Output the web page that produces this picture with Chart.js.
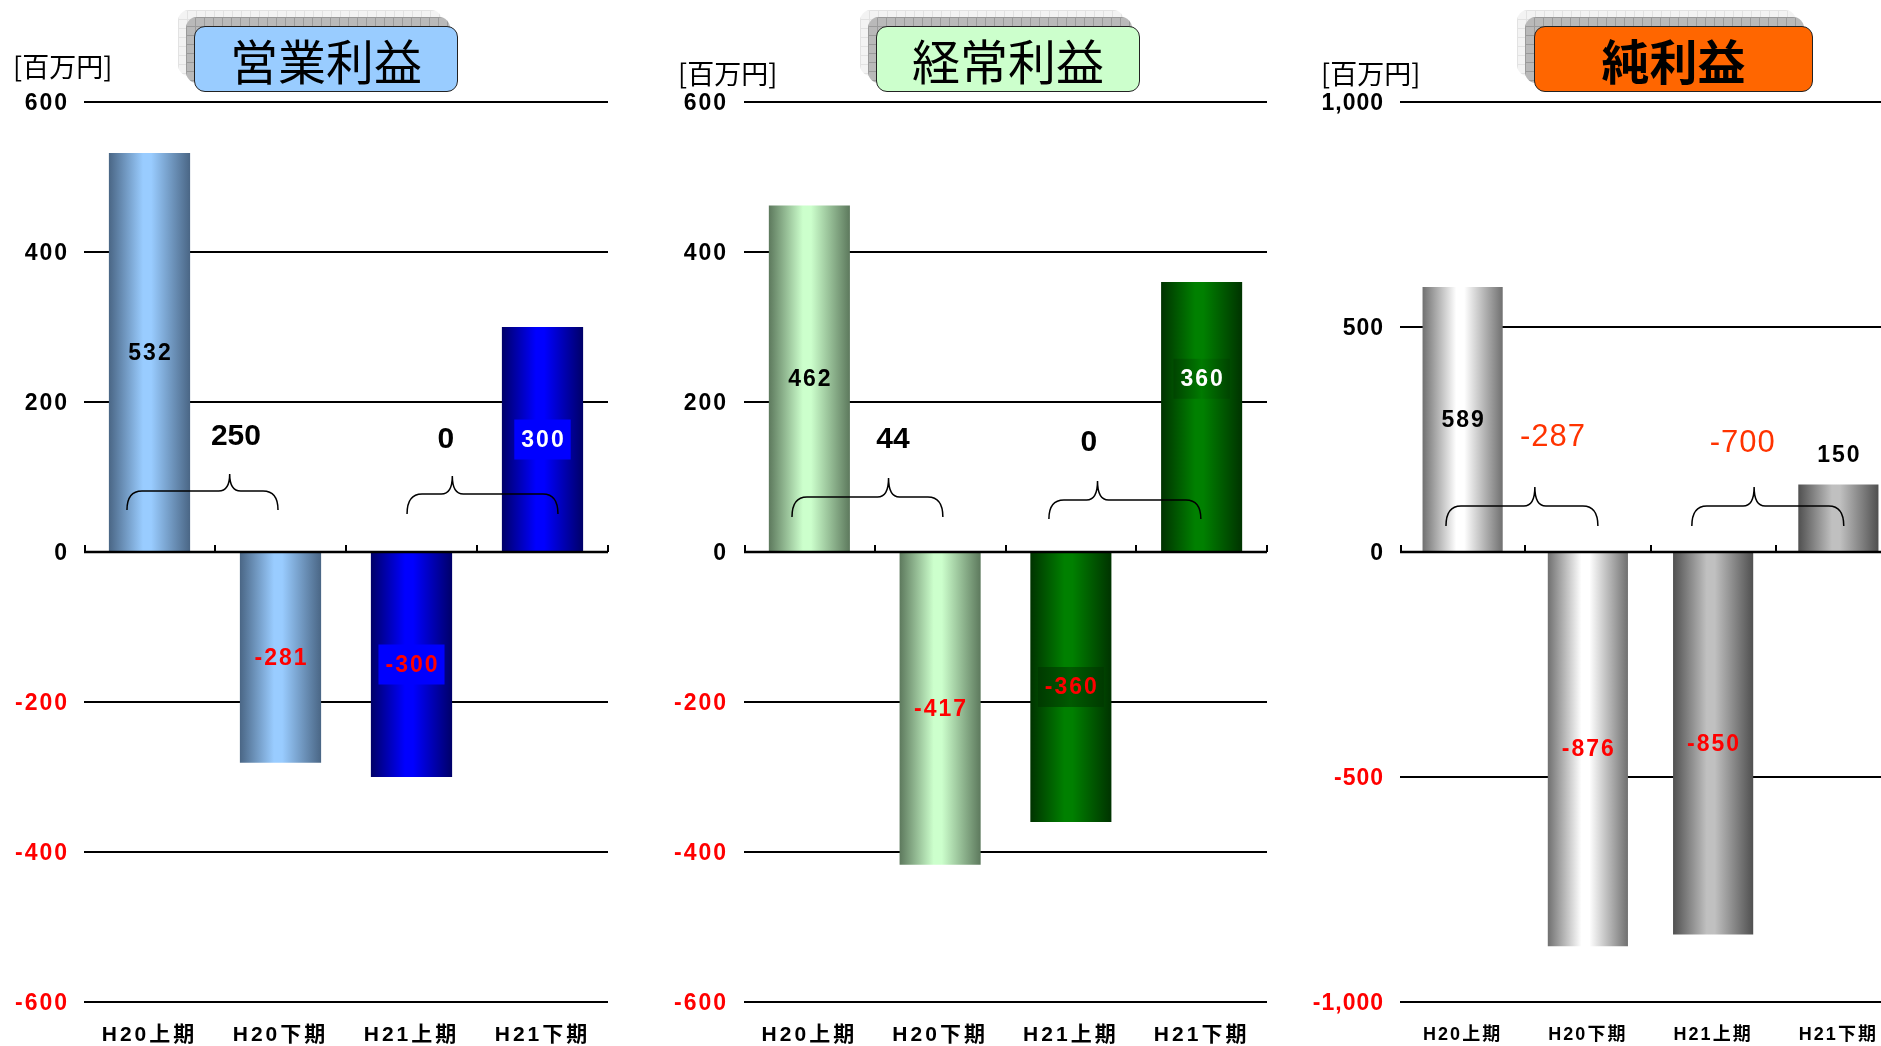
<!DOCTYPE html>
<html><head><meta charset="utf-8">
<script src="https://cdn.jsdelivr.net/npm/chart.js@4.4.1/dist/chart.umd.min.js"></script>
<style>
html,body{margin:0;padding:0;background:#fff;}
body{width:1881px;height:1046px;overflow:hidden;position:relative;}
canvas{position:absolute;top:0;}
.unit{position:absolute;font-family:"Noto Sans CJK JP",sans-serif;font-size:27px;line-height:28px;color:#000;white-space:nowrap;}
.sh{position:absolute;height:66px;border-radius:11px;}
.sh1{background-color:#f3f3f3;background-image:linear-gradient(#e2e2e2 1px,transparent 1px),linear-gradient(90deg,#e2e2e2 1px,transparent 1px);background-size:9px 9px;}
.sh2{background-color:#b9b9b9;background-image:linear-gradient(#9a9a9a 1px,transparent 1px),linear-gradient(90deg,#9a9a9a 1px,transparent 1px);background-size:9px 9px;}
.tb{position:absolute;height:66px;border-radius:11px;border:1.5px solid #222;box-sizing:border-box;display:flex;align-items:center;justify-content:center;font-family:"Noto Sans CJK JP",sans-serif;font-size:48px;color:#000;line-height:1;}
</style>
</head><body>
<canvas id="c1" width="620" height="1046" style="left:0px"></canvas>
<canvas id="c2" width="620" height="1046" style="left:660px"></canvas>
<canvas id="c3" width="620" height="1046" style="left:1300px"></canvas>

<div class="unit" id="u1" style="left:13px;top:52px"></div>
<div class="unit" id="u2" style="left:678px;top:59px"></div>
<div class="unit" id="u3" style="left:1321px;top:59px"></div>

<div class="sh sh1" style="left:178px;top:10px;width:264px"></div>
<div class="sh sh2" style="left:186px;top:17px;width:264px"></div>
<div class="tb" id="t1" style="left:194px;top:26px;width:264px;background:#99ccff"></div>

<div class="sh sh1" style="left:860px;top:10px;width:264px"></div>
<div class="sh sh2" style="left:868px;top:17px;width:264px"></div>
<div class="tb" id="t2" style="left:876px;top:26px;width:264px;background:#ccffcc"></div>

<div class="sh sh1" style="left:1517px;top:10px;width:279px"></div>
<div class="sh sh2" style="left:1525px;top:17px;width:279px"></div>
<div class="tb" id="t3" style="left:1534px;top:26px;width:279px;background:#ff6600;font-weight:700"></div>

<script>
// ---- data ----
const categories = ['H20上期', 'H20下期', 'H21上期', 'H21下期'];
const operatingValues = [532, -281, -300, 300];
const ordinaryValues = [462, -417, -360, 360];
const netValues = [589, -876, -850, 150];
const ticksSmall = [-600, -400, -200, 0, 200, 400, 600];
const ticksLarge = [-1000, -500, 0, 500, 1000];
const operatingChanges = [250, 0];
const ordinaryChanges = [44, 0];
const netChanges = [-287, -700];
const titles = ['営業利益', '経常利益', '純利益'];
const unitLabel = '[百万円]';

document.getElementById('u1').textContent = unitLabel;
document.getElementById('u2').textContent = unitLabel;
document.getElementById('u3').textContent = unitLabel;
document.getElementById('t1').textContent = titles[0];
document.getElementById('t2').textContent = titles[1];
document.getElementById('t3').textContent = titles[2];

const FAM = '"Liberation Sans", Arial, "Noto Sans CJK JP", sans-serif';
const fmt = v => v.toLocaleString('en-US');

function barFill(o) {
  return function (c) {
    const ch = c.chart, xs = ch.scales.x;
    const i = c.dataIndex;
    const pair = o.colors[i] || o.colors[0];
    if (!ch.chartArea || !xs || !xs.width || i === undefined) return pair[1];
    const cx = xs.getPixelForValue(i);
    const w = xs.width / categories.length * o.barPct;
    const g = ch.ctx.createLinearGradient(cx - w / 2, 0, cx + w / 2, 0);
    g.addColorStop(0, pair[0]);
    g.addColorStop(0.42, pair[1]);
    g.addColorStop(0.52, pair[1]);
    g.addColorStop(1, pair[0]);
    return g;
  };
}

const decor = {
  id: 'decor',
  afterLayout(chart, args, o) {
    const xs = chart.scales.x, ys = chart.scales.y;
    if (!xs._wrapped) {
      const orig = xs.drawLabels;
      xs.drawLabels = function (a) { const c = this.ctx; c.save(); c.letterSpacing = o.xSpacing; orig.call(this, a); c.restore(); };
      xs._wrapped = true;
    }
    if (!ys._wrapped) {
      const orig = ys.drawLabels;
      ys.drawLabels = function (a) { const c = this.ctx; c.save(); c.translate(0, 2); c.letterSpacing = o.ySpacing; orig.call(this, a); c.restore(); };
      ys._wrapped = true;
    }
  },
  afterDatasetsDraw(chart, args, o) {
    const ctx = chart.ctx, a = chart.chartArea, xs = chart.scales.x, ys = chart.scales.y;
    const n = categories.length;
    const y0 = ys.getPixelForValue(0);
    ctx.save();
    ctx.letterSpacing = '0px';
    // zero axis with tick marks
    ctx.strokeStyle = '#000';
    ctx.lineWidth = 2.5;
    ctx.beginPath(); ctx.moveTo(a.left, y0); ctx.lineTo(a.right, y0); ctx.stroke();
    ctx.lineWidth = 2;
    ctx.beginPath();
    for (let i = 0; i <= n; i++) {
      const px = Math.round(xs.getPixelForValue(i - 0.5)) + (i === 0 ? 1 : 0);
      ctx.moveTo(px, y0); ctx.lineTo(px, y0 - 7);
    }
    ctx.stroke();

    // bar value labels
    const meta = chart.getDatasetMeta(0);
    o.values.forEach((v, i) => {
      const el = meta.data[i];
      let py;
      if (o.labelAbove && o.labelAbove[i]) py = el.y - o.labelAbove[i];
      else if (o.labelAt && o.labelAt[i] != null) py = ys.getPixelForValue(o.labelAt[i]);
      else py = ys.getPixelForValue(v / 2);
      const txt = fmt(v);
      ctx.font = 'bold 23px ' + FAM;
      ctx.letterSpacing = '2px';
      const tw = ctx.measureText(txt).width;
      const box = o.labelBox && o.labelBox[i];
      if (box) {
        const bw = tw + 12, bh = 40;
        if (Array.isArray(box)) {
          const g = ctx.createLinearGradient(el.x - bw / 2, 0, el.x + bw / 2, 0);
          g.addColorStop(0, box[0]); g.addColorStop(0.5, box[1]); g.addColorStop(1, box[0]);
          ctx.fillStyle = g;
        } else ctx.fillStyle = box;
        ctx.fillRect(el.x - bw / 2, py - bh / 2, bw, bh);
      }
      ctx.fillStyle = o.labelColors[i];
      ctx.textAlign = 'center';
      ctx.textBaseline = 'middle';
      ctx.fillText(txt, el.x + 1, py + 1);
    });

    // braces with change annotations
    ctx.letterSpacing = '0px';
    o.braces.forEach((b, k) => {
      const xl = xs.getPixelForValue(b.from), xr = xs.getPixelForValue(b.to);
      const xp = xl + (xr - xl) * b.peak;
      const yT = y0 - b.top, yM = y0 - b.mid, yE = y0 - b.end;
      const r1 = 15, r2 = 11;
      ctx.strokeStyle = '#000';
      ctx.lineWidth = 1.5;
      ctx.beginPath();
      ctx.moveTo(xl, yE);
      ctx.quadraticCurveTo(xl, yM, xl + r1, yM);
      ctx.lineTo(xp - r2, yM);
      ctx.quadraticCurveTo(xp, yM, xp, yT);
      ctx.quadraticCurveTo(xp, yM, xp + r2, yM);
      ctx.lineTo(xr - r1, yM);
      ctx.quadraticCurveTo(xr, yM, xr, yE);
      ctx.stroke();
      const val = o.changes[k];
      ctx.font = o.changeFont;
      ctx.letterSpacing = o.changeSpacing;
      ctx.fillStyle = val < 0 ? '#ff3300' : '#000';
      ctx.textAlign = 'center';
      ctx.textBaseline = 'middle';
      ctx.fillText(fmt(val), xs.getPixelForValue(b.textX), y0 - b.textDy);
      ctx.letterSpacing = '0px';
    });
    ctx.restore();
  }
};

function makeChart(id, values, ticks, o) {
  o.values = values;
  return new Chart(document.getElementById(id), {
    type: 'bar',
    data: {
      labels: categories,
      datasets: [{
        data: values,
        backgroundColor: barFill(o),
        borderWidth: 0,
        barPercentage: o.barPct,
        categoryPercentage: 1
      }]
    },
    options: {
      responsive: false,
      animation: false,
      devicePixelRatio: 1,
      events: [],
      layout: { padding: { top: 102, left: 0, right: o.padRight, bottom: 0 } },
      plugins: { legend: { display: false }, tooltip: { enabled: false }, decor: o },
      scales: {
        x: {
          grid: { display: false },
          border: { display: false },
          ticks: { color: '#000', font: { family: FAM, size: o.xFont, weight: 'bold' }, padding: o.xPad, maxRotation: 0, autoSkip: false },
          afterFit: s => { s.height = 44; }
        },
        y: {
          min: ticks[0],
          max: ticks[ticks.length - 1],
          afterBuildTicks: s => { s.ticks = ticks.map(v => ({ value: v })); },
          afterFit: s => { s.width = o.yWidth; },
          grid: { color: '#000', lineWidth: 2, drawTicks: false },
          border: { display: false },
          ticks: {
            padding: o.yPad,
            color: c => (c.tick && c.tick.value < 0) ? '#ff0000' : '#000',
            font: { family: FAM, size: 23, weight: 'bold' },
            callback: v => fmt(v)
          }
        }
      }
    },
    plugins: [decor]
  });
}

makeChart('c1', operatingValues, ticksSmall, {
  padRight: 12, yWidth: 84, yPad: 15, xFont: 21, xPad: 13, xSpacing: '3px', ySpacing: '2px', barPct: 0.62,
  colors: [['#4a6685', '#99ccff'], ['#4a6685', '#99ccff'], ['#000068', '#0000ff'], ['#000068', '#0000ff']],
  labelColors: ['#000', '#ff0000', '#ff0000', '#fff'],
  labelBox: [null, null, '#0000ff', '#0000ff'],
  changes: operatingChanges, changeFont: 'bold 30px ' + FAM, changeSpacing: '0px',
  braces: [
    { from: -0.172, to: 0.981, peak: 0.68, top: 78, mid: 61, end: 42, textX: 0.66, textDy: 115 },
    { from: 1.966, to: 3.118, peak: 0.30, top: 76, mid: 58, end: 38, textX: 2.263, textDy: 112 }
  ]
});

makeChart('c2', ordinaryValues, ticksSmall, {
  padRight: 13, yWidth: 84, yPad: 16, xFont: 21, xPad: 13, xSpacing: '3px', ySpacing: '2px', barPct: 0.62,
  colors: [['#5d795d', '#ccffcc'], ['#5d795d', '#ccffcc'], ['#003300', '#008000'], ['#003300', '#008000']],
  labelColors: ['#000', '#ff0000', '#ff0000', '#fff'],
  labelBox: [null, null, ['#003a00', '#005a00'], ['#004400', '#007a00']],
  labelAt: [null, null, null, 231],
  changes: ordinaryChanges, changeFont: 'bold 30px ' + FAM, changeSpacing: '0px',
  braces: [
    { from: -0.133, to: 1.021, peak: 0.64, top: 74, mid: 55, end: 35, textX: 0.639, textDy: 112 },
    { from: 1.832, to: 2.994, peak: 0.32, top: 71, mid: 52, end: 33, textX: 2.138, textDy: 109 }
  ]
});

makeChart('c3', netValues, ticksLarge, {
  padRight: 19, yWidth: 100, yPad: 16, xFont: 18, xPad: 14, xSpacing: '2px', ySpacing: '1px', barPct: 0.64,
  colors: [['#707070', '#ffffff'], ['#707070', '#ffffff'], ['#505050', '#c0c0c0'], ['#505050', '#c0c0c0']],
  labelColors: ['#000', '#ff0000', '#ff0000', '#000'],
  labelBox: [null, null, null, null],
  labelAbove: [0, 0, 0, 30],
  changes: netChanges, changeFont: '31px ' + FAM, changeSpacing: '1px',
  braces: [
    { from: -0.133, to: 1.080, peak: 0.585, top: 65, mid: 46, end: 26, textX: 0.721, textDy: 115 },
    { from: 1.830, to: 3.043, peak: 0.41, top: 65, mid: 46, end: 26, textX: 2.237, textDy: 109 }
  ]
});
</script>
</body></html>
